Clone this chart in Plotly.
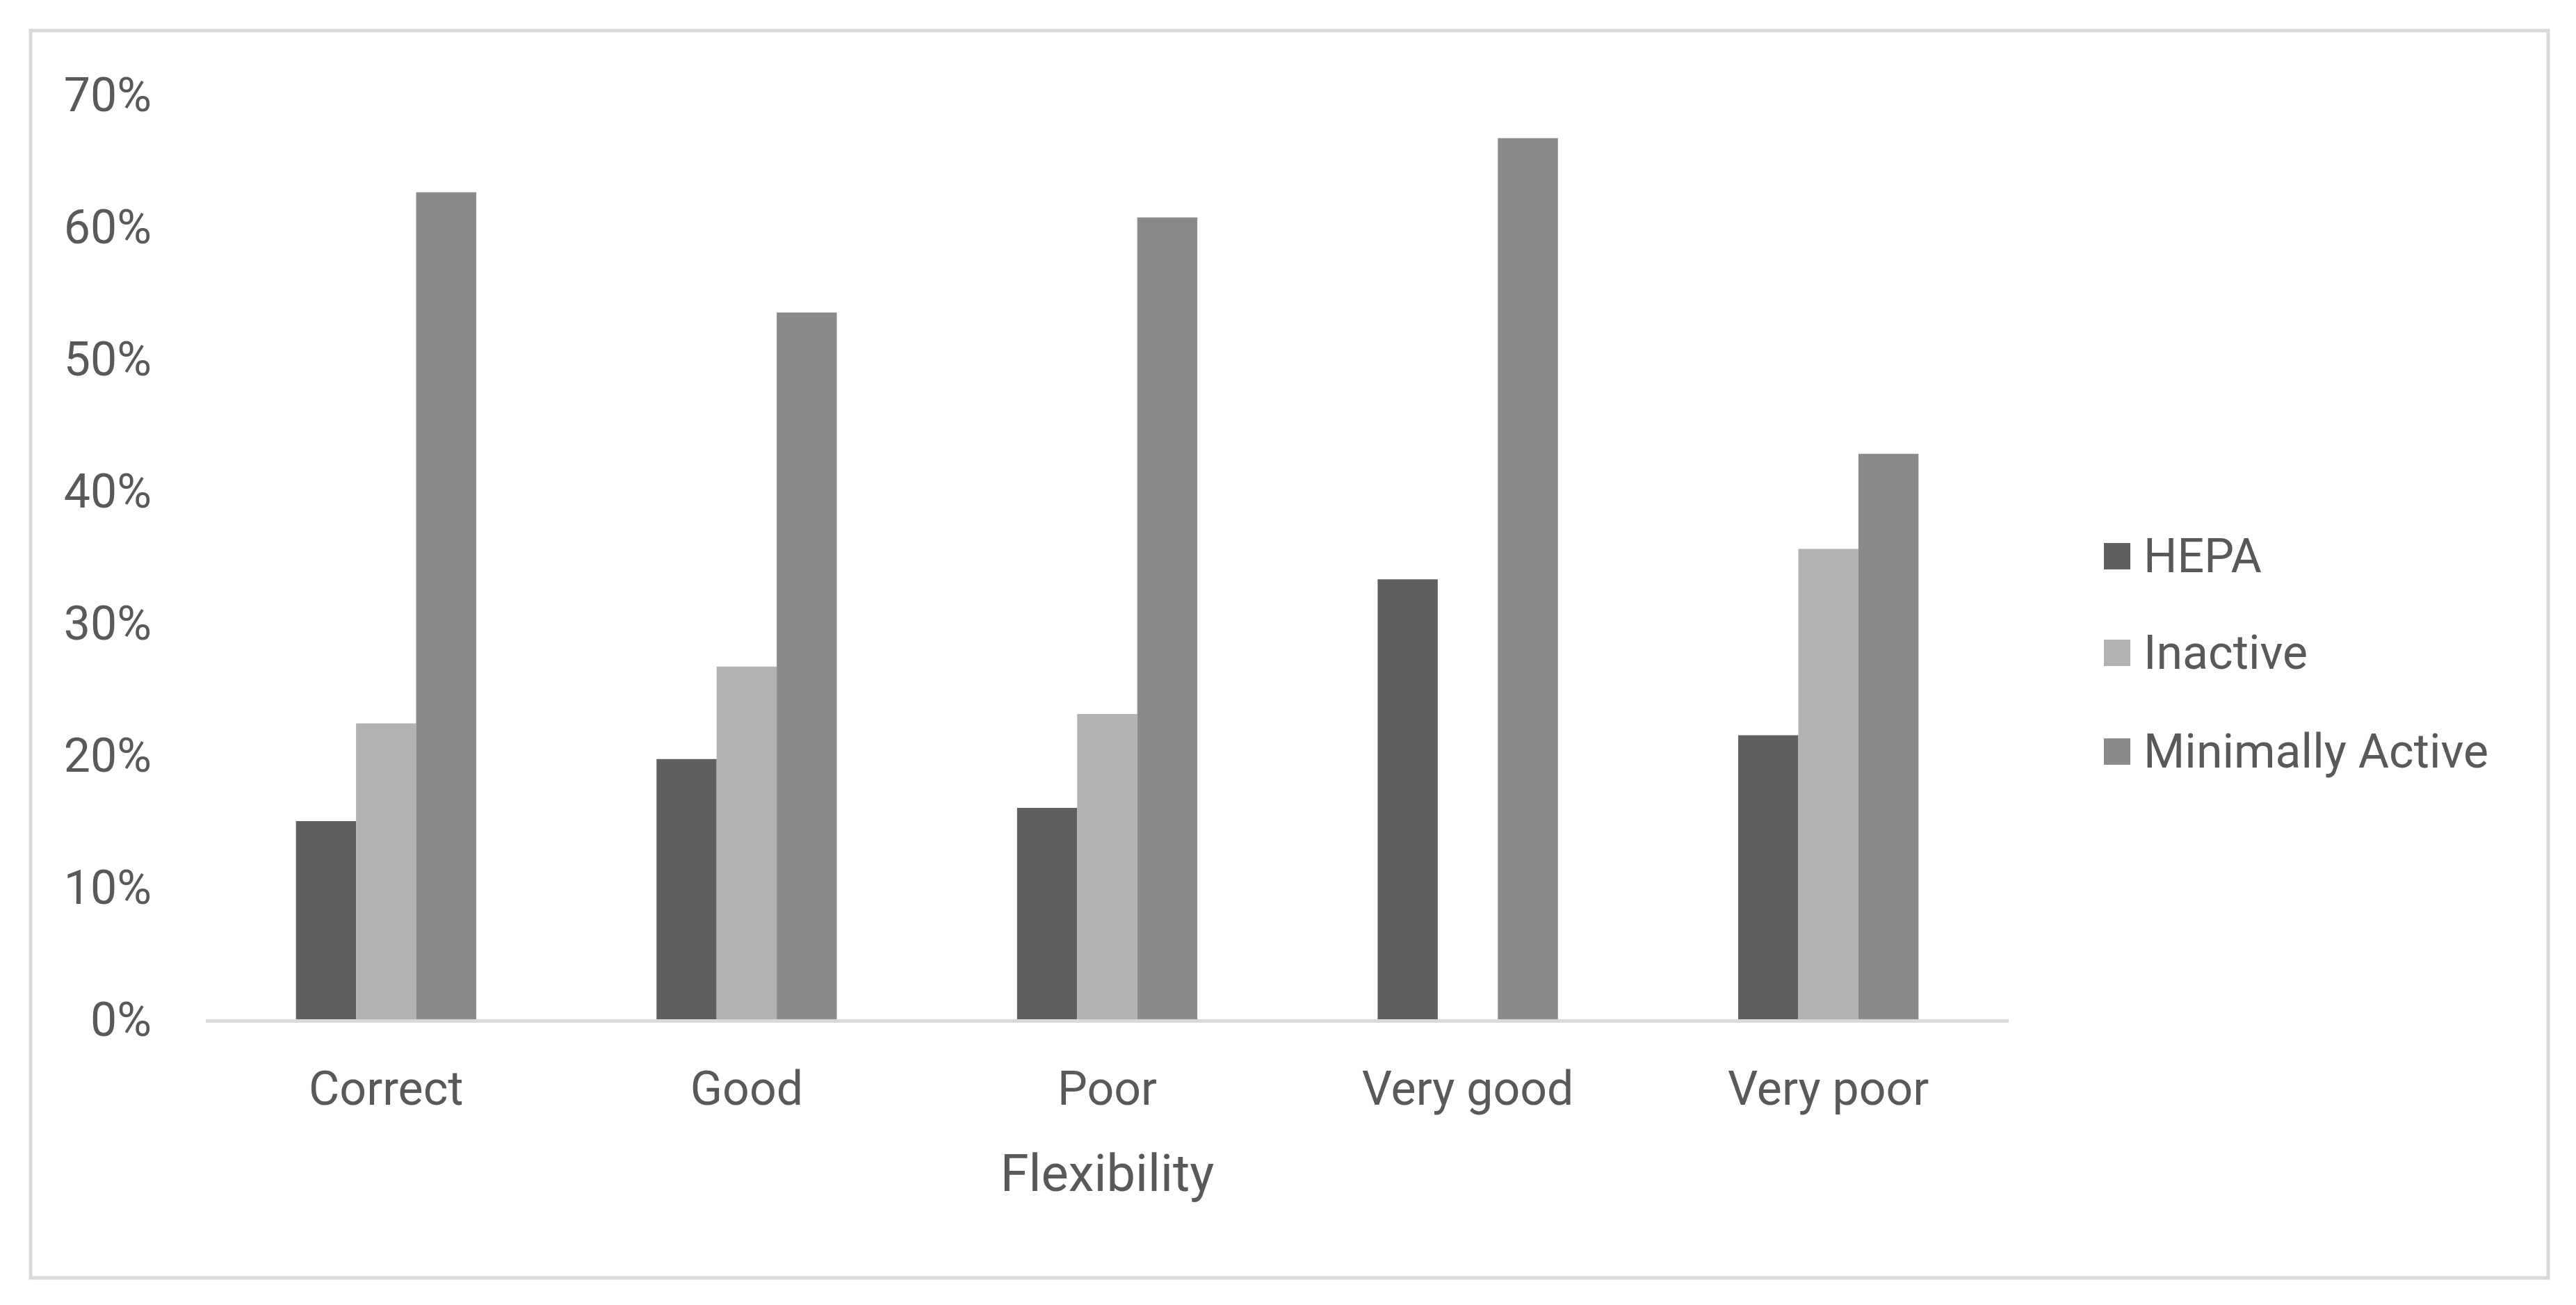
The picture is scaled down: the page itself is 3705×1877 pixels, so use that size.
import plotly.graph_objects as go

categories = ["Correct", "Good", "Poor", "Very good", "Very poor"]
hepa = [0.150, 0.197, 0.160, 0.333, 0.215]
inactive = [0.224, 0.267, 0.231, 0.0, 0.356]
minimally_active = [0.626, 0.535, 0.607, 0.667, 0.428]

series_names = ["HEPA", "Inactive", "Minimally Active"]
series_colors = ["#5f5f5f", "#b2b2b2", "#8a8a8a"]
y_ticks = [0, 0.1, 0.2, 0.3, 0.4, 0.5, 0.6, 0.7]
y_ticklabels = ["0%", "10%", "20%", "30%", "40%", "50%", "60%", "70%"]

FONT = "Roboto, Open Sans, sans-serif"
TXT = "#595959"

# plot area in pixels
L, R, T, B = 288, 2881, 128, 1458
W, H = R - L, B - T

fig = go.Figure()
for name, vals, col in zip(series_names, [hepa, inactive, minimally_active], series_colors):
    fig.add_trace(go.Bar(x=categories, y=vals, name=name, marker_color=col,
                         marker_line_width=0, showlegend=False))

fig.update_layout(
    width=3705, height=1877,
    paper_bgcolor="white", plot_bgcolor="white",
    margin=dict(l=L, r=3705 - R, t=T, b=1877 - B, autoexpand=False),
    barmode="group", bargap=0.5, bargroupgap=0,
    font=dict(family=FONT, color=TXT, size=68),
    showlegend=False,
    xaxis=dict(showgrid=False, showline=True, linecolor="#d9d9d9", linewidth=5,
               ticks="", ticklabelstandoff=36, tickfont=dict(size=68),
               title=dict(text="Flexibility", font=dict(size=74), standoff=58)),
    yaxis=dict(range=[0, 0.7], tickvals=y_ticks, ticktext=y_ticklabels,
               showgrid=False, zeroline=False, showline=False, ticks="",
               ticklabelstandoff=77, tickfont=dict(size=68)),
)

def px_x(p):
    return (p - L) / W

def px_y(p):
    return (B - p) / H

# outer chart border
fig.add_shape(type="rect", xref="paper", yref="paper",
              x0=px_x(36), x1=px_x(3657), y0=px_y(1830), y1=px_y(36),
              line=dict(color="#d9d9d9", width=5), layer="below")

# legend (manual, to get large colour swatches)
legend_y = [792, 931, 1073]
for name, col, yc in zip(series_names, series_colors, legend_y):
    fig.add_shape(type="rect", xref="paper", yref="paper",
                  x0=px_x(3018), x1=px_x(3056), y0=px_y(yc + 19), y1=px_y(yc - 19),
                  fillcolor=col, line=dict(width=0))
    fig.add_annotation(xref="paper", yref="paper", x=px_x(3073), y=px_y(yc),
                       xanchor="left", yanchor="middle", text=name, showarrow=False,
                       font=dict(size=68, color=TXT, family=FONT))

fig.write_html("out.html")
